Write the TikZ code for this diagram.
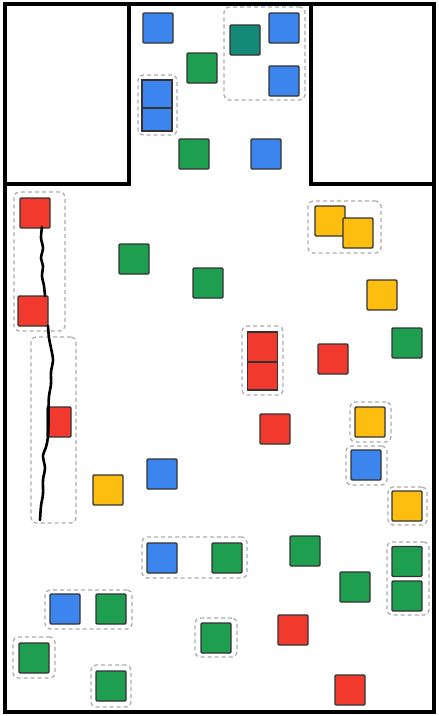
\documentclass[tikz,border=0pt]{standalone}
\usetikzlibrary{fit}
\definecolor{blueF}{HTML}{3D85EE}
\definecolor{greenF}{HTML}{1E9E4F}
\definecolor{redF}{HTML}{F2392E}
\definecolor{yellowF}{HTML}{FDBE0F}
\definecolor{tealF}{HTML}{168A78}
\definecolor{dashG}{HTML}{ADADAD}
\tikzset{
  sq/.style={draw=black!80, line width=1.4pt, rounded corners=1.2pt, minimum width=30pt, minimum height=30pt, inner sep=0pt, outer sep=0pt},
  bsq/.style={sq, fill=blueF},
  gsq/.style={sq, fill=greenF},
  rsq/.style={sq, fill=redF},
  ysq/.style={sq, fill=yellowF},
  tsq/.style={sq, fill=tealF},
  stk/.style={rounded corners=0pt},
  dbox/.style={draw=dashG, line width=1.3pt, dash pattern=on 4pt off 3pt, rounded corners=5pt, inner sep=0pt},
  wall/.style={line width=3.5pt, line cap=rect, line join=miter},
  crack/.style={line width=2.6pt, line cap=round, line join=round, black},
}
\begin{document}
\begin{tikzpicture}[x=1pt,y=-1pt]
\fill[white] (0,0) rectangle (439,716);
\useasboundingbox (0,0) rectangle (439,716);
% walls
\draw[wall] (5,4) rectangle (434,712);
\draw[wall] (5,184) -- (129,184) -- (129,4);
\draw[wall] (311,4) -- (311,184) -- (434,184);

% dashed groups
\node[dbox, fit={(224,7) (305,100)}] (dA) {};
\node[dbox, fit={(138,75) (177,135)}] (dB) {};
\node[dbox, fit={(14,192) (65,331)}] (dC) {};
\node[dbox, fit={(31,337) (76,523)}] (dD) {};
\node[dbox, fit={(308,201) (381,253)}] (dE) {};
\node[dbox, fit={(242,326) (283,395)}] (dF) {};
\node[dbox, fit={(350,402) (391,442)}] (dG) {};
\node[dbox, fit={(346,446) (387,485)}] (dH) {};
\node[dbox, fit={(388,487) (427,525)}] (dI) {};
\node[dbox, fit={(142,537) (247,578)}] (dJ) {};
\node[dbox, fit={(387,542) (429,615)}] (dK) {};
\node[dbox, fit={(45,590) (132,629)}] (dL) {};
\node[dbox, fit={(13,637) (55,678)}] (dM) {};
\node[dbox, fit={(91,665) (131,707)}] (dN) {};
\node[dbox, fit={(195,618) (237,657)}] (dO) {};

% top room
\node[bsq] (b1) at (158,28) {};
\node[tsq] (t1) at (245,40) {};
\node[bsq] (b2) at (284,28) {};
\node[gsq] (g1) at (202,68) {};
\node[bsq] (b3) at (284,81) {};
\node[bsq, stk, minimum height=28pt] (bs1) at (157,94) {};
\node[bsq, stk, minimum height=23pt] (bs2) at (157,119.5) {};
\node[gsq] (g2) at (194,154) {};
\node[bsq] (b4) at (266,154) {};

% lower hall
\node[rsq] (r1) at (35,213) {};
\node[rsq] (r2) at (33,311) {};
\node[rsq, minimum width=24pt] (r3) at (59,422) {};
\node[gsq] (g3) at (134,259) {};
\node[gsq] (g4) at (208,283) {};
\node[ysq] (y1) at (330,221) {};
\node[ysq] (y2) at (358,233) {};
\node[ysq] (y3) at (382,295) {};
\node[gsq] (g5) at (407,343) {};
\node[rsq, stk] (rs1) at (262.5,347) {};
\node[rsq, stk, minimum height=28pt] (rs2) at (262.5,376) {};
\node[rsq] (r4) at (333,359) {};
\node[rsq] (r5) at (275,429) {};
\node[ysq] (y4) at (370,422) {};
\node[bsq] (b5) at (366,465) {};
\node[ysq] (y5) at (407,506) {};
\node[bsq] (b6) at (162,474) {};
\node[ysq] (y6) at (108,490) {};
\node[bsq] (b7) at (162,558) {};
\node[gsq] (g6) at (227,558) {};
\node[gsq] (g7) at (305,551) {};
\node[gsq] (g8) at (355,587) {};
\node[gsq] (g9) at (407,561.5) {};
\node[gsq] (g10) at (407,596) {};
\node[bsq] (b8) at (65,609) {};
\node[gsq] (g11) at (111,609) {};
\node[gsq] (g12) at (34,658) {};
\node[gsq] (g13) at (111,686) {};
\node[gsq] (g14) at (216,638) {};
\node[rsq] (r6) at (293,630) {};
\node[rsq] (r7) at (350,690) {};

% crack
\coordinate (c1) at (42,227);
\coordinate (c2) at (45,296);
\coordinate (c3) at (48,326);
\coordinate (c4) at (40,520);
\draw[crack] plot[smooth, tension=0.5] coordinates {(c1) (41,238) (43,248) (41,258) (43,266) (42,276) (44,286) (c2)};
\draw[crack] plot[smooth, tension=0.5] coordinates {(c3) (49,338) (51,348) (53,360) (51,372) (51,384) (49,396) (48.5,408) (48.5,422) (48,437) (46,447) (43,456) (45,468) (43,480) (43,494) (41,506) (c4)};
\end{tikzpicture}
\end{document}
